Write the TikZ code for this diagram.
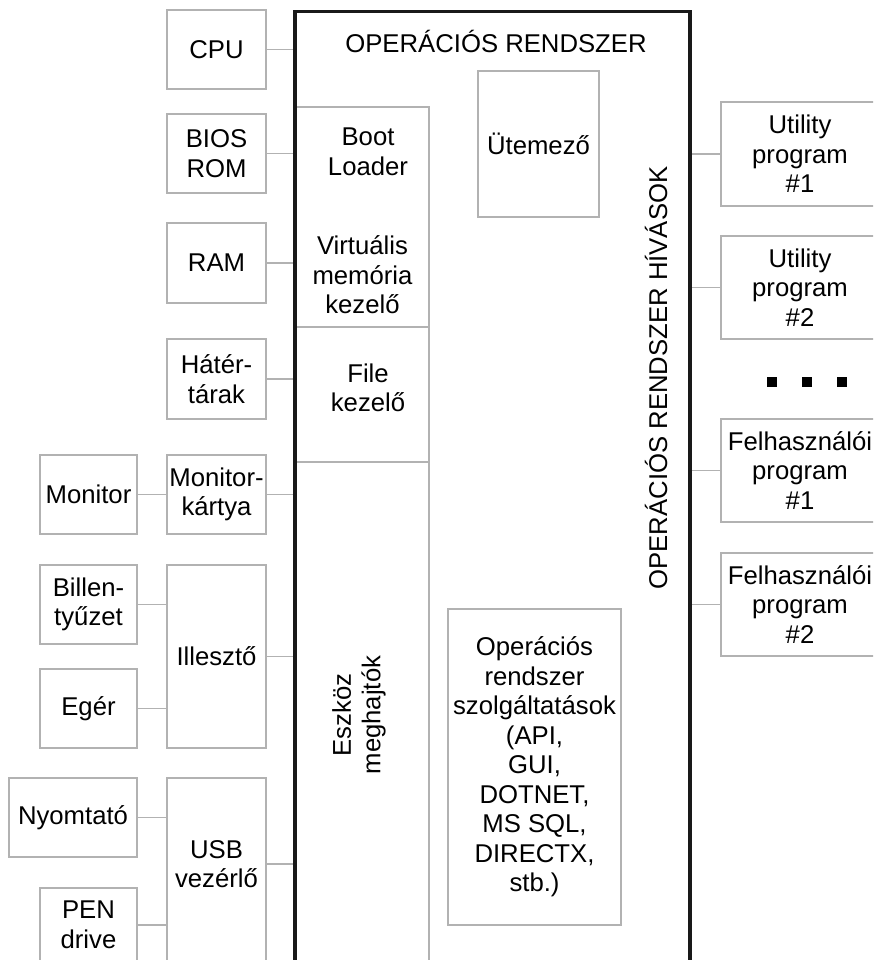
\documentclass[tikz,border=0pt]{standalone}
\usepackage{fontspec}
\setmainfont{Liberation Sans}
\usetikzlibrary{calc}
\newcommand\diagfont{\fontsize{25.7}{29.5}\selectfont}
\tikzset{
	box/.style={draw=black!30, line width=1.1pt, inner sep=0pt, align=center, font=\diagfont},
	txt/.style={inner sep=0pt, align=center, font=\diagfont},
	link/.style={draw=black!30, line width=1.1pt},
	osline/.style={draw=black!90, line width=3.5pt}
}

\begin{document}
\begin{tikzpicture}[x=1pt,y=-1pt]
		%%%%% START %%%%%
		\useasboundingbox (0,0) rectangle (873,960);
		\clip (0,0) rectangle (873,960);
		
		\node[minimum width=395, minimum height=1000, inner sep=0pt] (os) at (492.5, 511.5) {};
		
		\node[box, minimum width=134, minimum height=220] (mem) at (362, 217) {};
		\node[box, minimum width=134, minimum height=135] (file) at (362, 394.5) {};
		\node[box, minimum width=134, minimum height=548] (drv) at (362, 736) {};
		\node[txt] (boot) at (368, 152) {Boot\\Loader};
		\node[txt] (virt) at (362.5, 275) {Virtuális\\memória\\kezelő};
		\node[txt] (filetxt) at (368, 388) {File\\kezelő};
		\node[txt, rotate=90] (eszkoz) at (359, 715) {Eszköz\\meghajtók};
		
		\node[txt] (title) at (496, 41) {OPERÁCIÓS RENDSZER};
		\node[box, minimum width=121, minimum height=146] (utem) at (538.5, 144) {Ütemező};
		\node[txt, rotate=90] (hivas) at (656, 378) {OPERÁCIÓS RENDSZER HÍVÁSOK};
		\node[box, minimum width=173, minimum height=316] (szolg) at (534.5, 767) {Operációs\\rendszer\\szolgáltatások\\(API,\\GUI,\\DOTNET,\\MS SQL,\\DIRECTX,\\stb.)};
		
		% hardver
		\node[box, minimum width=99, minimum height=79] (cpu) at (216.5, 49.5) {CPU};
		\node[box, minimum width=99, minimum height=79] (bios) at (216.5, 153.5) {BIOS\\ROM};
		\node[box, minimum width=99, minimum height=80] (ram) at (216.5, 263) {RAM};
		\node[box, minimum width=99, minimum height=80] (hatter) at (216.5, 379) {Hátér-\\tárak};
		\node[box, minimum width=99, minimum height=79] (mkartya) at (216.5, 494.5) {Monitor-\\kártya};
		\node[box, minimum width=99, minimum height=183] (illeszto) at (216.5, 656.5) {Illesztő};
		\node[box, minimum width=99, minimum height=222] (usb) at (216.5, 889) {};
		\node[txt] (usbtxt) at (216.5, 864) {USB\\vezérlő};
		
		\node[box, minimum width=97, minimum height=79] (monitor) at (88.5, 494.5) {Monitor};
		\node[box, minimum width=97, minimum height=79] (bill) at (88.5, 604.5) {Billen-\\tyűzet};
		\node[box, minimum width=97, minimum height=79] (eger) at (88.5, 708.5) {Egér};
		\node[box, minimum width=128, minimum height=79] (nyomtato) at (73, 817.5) {Nyomtató};
		\node[box, minimum width=97, minimum height=74] (pen) at (88.5, 925) {PEN\\drive};
		
		\draw[link] (cpu.east) -- (cpu.east -| os.west);
		\draw[link] (bios.east) -- (bios.east -| os.west);
		\draw[link] (ram.east) -- (ram.east -| os.west);
		\draw[link] (hatter.east) -- (hatter.east -| os.west);
		\draw[link] (mkartya.east) -- (mkartya.east -| os.west);
		\draw[link] (illeszto.east) -- (illeszto.east -| os.west);
		\draw[link] (usbtxt -| usb.east) -- (usbtxt -| os.west);
		
		\draw[link] (monitor.east) -- (mkartya.west);
		\draw[link] (bill.east) -- (bill.east -| illeszto.west);
		\draw[link] (eger.east) -- (eger.east -| illeszto.west);
		\draw[link] (nyomtato.east) -- (nyomtato.east -| usb.west);
		\draw[link] (pen.east) -- (pen.east -| usb.west);
		
		% programok
		\node[box, minimum width=158, minimum height=104] (util1) at (800, 154) {Utility\\program\\\#1};
		\node[box, minimum width=158, minimum height=103] (util2) at (800, 287.5) {Utility\\program\\\#2};
		\node[box, minimum width=158, minimum height=103] (felh1) at (800, 470.5) {Felhasználói\\program\\\#1};
		\node[box, minimum width=158, minimum height=103] (felh2) at (800, 604.5) {Felhasználói\\program\\\#2};
		\foreach \x in {772, 806.5, 842}
			\fill[black] (\x-5, 377) rectangle (\x+5, 387);
		
		\draw[link] (os.east |- util1.west) -- (util1.west);
		\draw[link] (os.east |- util2.west) -- (util2.west);
		\draw[link] (os.east |- felh1.west) -- (felh1.west);
		\draw[link] (os.east |- felh2.west) -- (felh2.west);
		
		\draw[osline] (os.south west) rectangle (os.north east);
		%%%%% END %%%%%
\end{tikzpicture}
\end{document}
